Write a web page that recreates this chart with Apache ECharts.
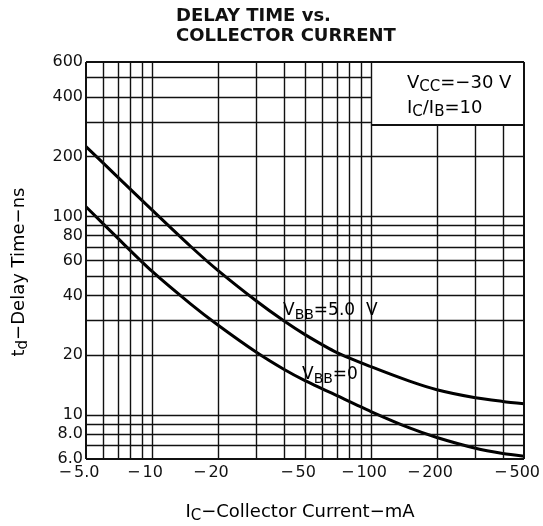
<!DOCTYPE html>
<html>
<head>
<meta charset="utf-8">
<script src="https://cdn.jsdelivr.net/npm/echarts@6/dist/echarts.min.js"></script>
<style>
html,body{margin:0;padding:0;background:#fff;}
#c{width:543px;height:526px;}
</style>
</head>
<body>
<div id="c"></div>
<script>
// ---- data ----
const xTicks = [5, 10, 20, 50, 100, 200, 500];
const yTicks = [6, 8, 10, 20, 40, 60, 80, 100, 200, 400, 600];
const xGrid = [5, 6, 7, 8, 9, 10, 20, 30, 40, 50, 60, 70, 80, 90, 100, 200, 300, 400, 500];
const yGrid = [6, 7, 8, 9, 10, 20, 30, 40, 50, 60, 70, 80, 90, 100, 200, 300, 400, 500, 600];
const current = [5, 7, 10, 15, 20, 30, 40, 50, 70, 100, 150, 200, 300, 400, 500];
const delayVbb5 = [225, 157.5, 108, 70.8, 53.5, 37.5, 29.8, 25.4, 20.6, 17.5, 14.8, 13.4, 12.2, 11.7, 11.4];
const delayVbb0 = [112, 77.5, 53, 36.3, 28.4, 20.7, 17.0, 14.9, 12.5, 10.4, 8.6, 7.7, 6.8, 6.4, 6.2];

const FONT = 'DejaVu Sans';
const INK = '#111';
// annotation box (top-right, inside the plot), in data units
const BOX_X0 = 100, BOX_Y0 = 290;

const chart = echarts.init(document.getElementById('c'), null, {renderer: 'canvas'});

function pairs(xs, ys) { return xs.map((x, i) => [x, ys[i]]); }
function fmtY(v) { return (v === 6 || v === 8) ? v.toFixed(1) : String(v); }
function fmtX(v) { return '{m|\u2212}{n|' + (v === 5 ? '5.0' : String(v)) + '}'; }

const X_MIN = xGrid[0], X_MAX = xGrid[xGrid.length - 1];
const Y_MIN = yGrid[0], Y_MAX = yGrid[yGrid.length - 1];

// grid segments; lines stop at the annotation box
const gridSegs = [];
xGrid.forEach(v => {
  const top = (v > BOX_X0 && v !== X_MAX) ? BOX_Y0 : Y_MAX;
  gridSegs.push([{coord: [v, Y_MIN], lineStyle: {width: (v === X_MIN || v === X_MAX) ? 2 : 1.4}}, {coord: [v, top]}]);
});
yGrid.forEach(v => {
  const right = (v > BOX_Y0 && v !== Y_MAX) ? BOX_X0 : X_MAX;
  gridSegs.push([{coord: [X_MIN, v], lineStyle: {width: (v === Y_MIN || v === Y_MAX) ? 2 : 1.4}}, {coord: [right, v]}]);
});
// bottom edge of the annotation box
gridSegs.push([{coord: [BOX_X0, BOX_Y0], lineStyle: {width: 1.8}}, {coord: [X_MAX, BOX_Y0]}]);

const subRich = {
  b: {fontFamily: FONT, fontSize: 17, color: INK, lineHeight: 22},
  s: {fontFamily: FONT, fontSize: 14, color: INK, lineHeight: 14, padding: [8, 0, 0, 0]}
};
const subRich18 = {
  b: {fontFamily: FONT, fontSize: 18, color: INK, lineHeight: 22},
  s: {fontFamily: FONT, fontSize: 15, color: INK, lineHeight: 15, padding: [8, 0, 0, 0]}
};

const option = {
  animation: false,
  backgroundColor: '#fff',
  grid: {left: 86, right: 12, top: 62, bottom: 67, containLabel: false},
  xAxis: {
    type: 'log', logBase: 10, min: X_MIN, max: X_MAX,
    axisLine: {show: false}, axisTick: {show: false},
    splitLine: {show: false}, minorTick: {show: false}, minorSplitLine: {show: false},
    axisLabel: {
      customValues: xTicks,
      formatter: fmtX,
      margin: 6,
      rich: {
        m: {fontFamily: FONT, fontSize: 16, color: INK},
        n: {fontFamily: FONT, fontSize: 16, color: INK, padding: [0, 14, 0, 2]}
      }
    }
  },
  yAxis: {
    type: 'log', logBase: 10, min: Y_MIN, max: Y_MAX,
    axisLine: {show: false}, axisTick: {show: false},
    splitLine: {show: false}, minorTick: {show: false}, minorSplitLine: {show: false},
    axisLabel: {
      customValues: yTicks,
      formatter: fmtY,
      margin: 3,
      fontFamily: FONT, fontSize: 16, color: INK
    }
  },
  series: [
    {
      name: 'grid', type: 'line', z: 1, data: [], silent: true,
      markLine: {
        silent: true, symbol: ['none', 'none'], animation: false,
        label: {show: false},
        lineStyle: {color: INK, width: 1.4, type: 'solid'},
        data: gridSegs
      }
    },
    {
      name: 'VBB=5.0 V', type: 'line', z: 3, smooth: 0.25, symbol: 'none',
      lineStyle: {color: '#000', width: 3},
      data: pairs(current, delayVbb5)
    },
    {
      name: 'VBB=0', type: 'line', z: 3, smooth: 0.25, symbol: 'none',
      lineStyle: {color: '#000', width: 3},
      data: pairs(current, delayVbb0)
    }
  ],
  graphic: [
    {type: 'text', left: 176, top: 7, z: 10, style: {text: 'DELAY TIME vs.', fontFamily: FONT, fontWeight: 'bold', fontSize: 18, fill: INK}},
    {type: 'text', left: 176, top: 27, z: 10, style: {text: 'COLLECTOR CURRENT', fontFamily: FONT, fontWeight: 'bold', fontSize: 18, fill: INK}},
    {type: 'text', x: 407, y: 83, z: 10, style: {text: '{b|V}{s|CC}{b|=\u221230 V}', rich: subRich18, align: 'left', verticalAlign: 'middle'}},
    {type: 'text', x: 407, y: 108, z: 10, style: {text: '{b|I}{s|C}{b|/I}{s|B}{b|=10}', rich: subRich18, align: 'left', verticalAlign: 'middle'}},
    {type: 'text', x: 283, y: 311, z: 10, style: {text: '{b|V}{s|BB}{b|=5.0  V}', rich: subRich, align: 'left', verticalAlign: 'middle'}},
    {type: 'text', x: 302, y: 375, z: 10, style: {text: '{b|V}{s|BB}{b|=0}', rich: subRich, align: 'left', verticalAlign: 'middle'}},
    {type: 'text', x: 300, y: 512, z: 10, style: {text: '{b|I}{s|C}{b|\u2212Collector Current\u2212mA}', rich: subRich18, align: 'center', verticalAlign: 'middle'}},
    {type: 'text', x: 19, y: 272, rotation: Math.PI / 2, z: 10, style: {text: '{b|t}{s|d}{b|\u2212Delay Time\u2212ns}', rich: subRich18, align: 'center', verticalAlign: 'middle'}}
  ]
};
chart.setOption(option);
</script>
</body>
</html>
